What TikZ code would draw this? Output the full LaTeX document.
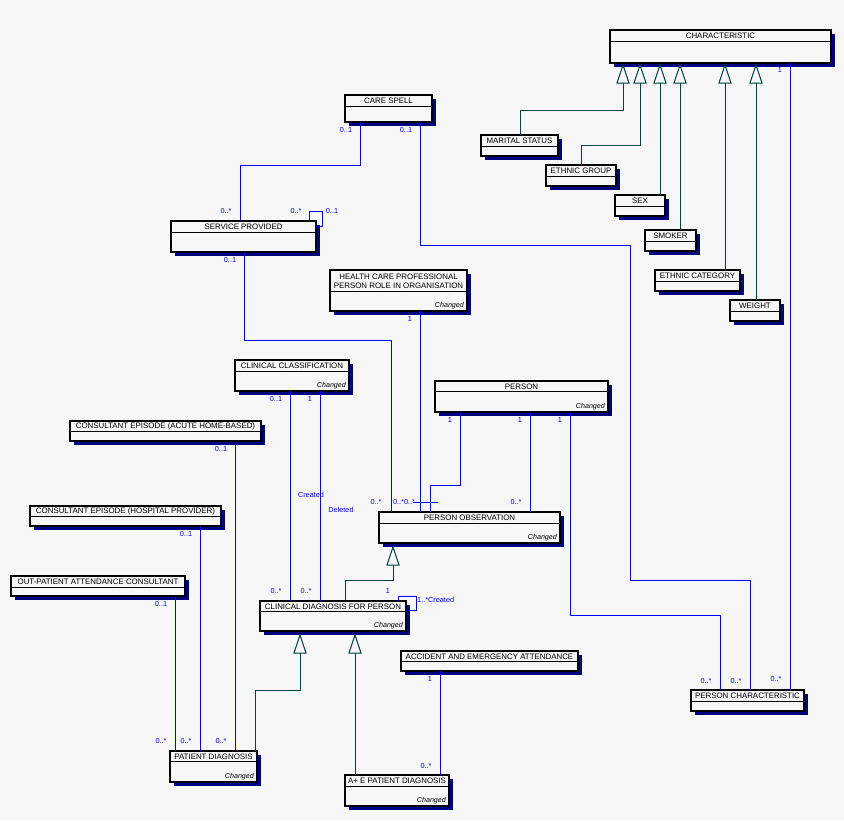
\documentclass[tikz,border=0pt]{standalone}
\usepackage{fontspec}
\setmainfont{Liberation Sans}
\definecolor{bg}{HTML}{F7F7F7}
\definecolor{shd}{HTML}{000080}
\definecolor{assoc}{HTML}{0000FF}
\definecolor{gen}{HTML}{004040}
\tikzset{
  cls/.style={draw=black, line width=1.1pt, fill=bg, inner sep=0pt, outer sep=0pt},
  clsline/.style={draw=black, line width=1pt},
  shadowbox/.style={fill=shd},
  ttl/.style={font=\fontsize{7.9}{9.4}\selectfont, text=black, inner sep=0pt, align=center},
  chgs/.style={font=\fontsize{7.1}{8}\selectfont\itshape, text=black, inner sep=0pt},
  asc/.style={draw=assoc, line width=1pt},
  gnl/.style={draw=gen, line width=1pt},
  gtri/.style={draw=gen, line width=1pt, fill=bg},
  lbl/.style={font=\fontsize{7.3}{8}\selectfont, text=assoc, inner sep=0pt},
}
\newcommand\umlcls[7]{%
  \fill[shadowbox] ({#2+3.5},{#3+3.5}) rectangle ({#4+3.5},{#5+3.5});
  \node[cls, minimum width={(#4-#2)*1pt}, minimum height={(#5-#3)*1pt}, anchor=north west] (#1) at (#2,#3) {};
  \draw[clsline] (#2,#6) -- (#4,#6);
  \node[ttl] (#1-t) at ({(#2+#4)/2},{(#3+#6)/2+0.5}) {#7};
}
\newcommand\chg[1]{\node[chgs, anchor=south east] (#1-c) at ([xshift=-3pt,yshift=2pt]#1.south east) {Changed};}
\newcommand\gtr[2]{% tip x, tip y
  \draw[gtri] (#1,#2) -- ({#1-6},{#2+18}) -- ({#1+6},{#2+18}) -- cycle;}
\begin{document}
\begin{tikzpicture}[x=1pt,y=-1pt]
\fill[bg] (0,0) rectangle (844,820);
\useasboundingbox (0,0) rectangle (844,820);

% classes
\umlcls{char}{610}{30}{831}{63}{41}{CHARACTERISTIC}
\umlcls{marital}{481}{135}{558}{156}{146}{MARITAL STATUS}
\umlcls{ethgrp}{546}{165}{616}{186}{176}{ETHNIC GROUP}
\umlcls{sex}{615}{195}{665}{216}{206}{SEX}
\umlcls{smoker}{645}{230}{696}{251}{241}{SMOKER}
\umlcls{ethcat}{655}{270}{740}{291}{281}{ETHNIC CATEGORY}
\umlcls{weight}{730}{300}{780}{321}{311}{WEIGHT}
\umlcls{cs}{345}{95}{432}{122}{106}{CARE SPELL}
\umlcls{sp}{171}{221}{316}{252}{232}{SERVICE PROVIDED}
\umlcls{hcp}{330}{270}{467}{311}{291}{HEALTH CARE PROFESSIONAL\\PERSON ROLE IN ORGANISATION}
\chg{hcp}
\umlcls{cc}{235}{360}{349}{391}{371}{CLINICAL CLASSIFICATION}
\chg{cc}
\umlcls{person}{435}{381}{608}{412}{391}{PERSON}
\chg{person}
\umlcls{po}{379}{512}{560}{543}{523}{PERSON OBSERVATION}
\chg{po}
\umlcls{cdfp}{260}{601}{406}{631}{611}{CLINICAL DIAGNOSIS FOR PERSON}
\chg{cdfp}
\umlcls{aed}{401}{651}{578}{671}{661}{ACCIDENT AND EMERGENCY ATTENDANCE}
\umlcls{pd}{170}{751}{257}{782}{761}{PATIENT DIAGNOSIS}
\chg{pd}
\umlcls{aepd}{345}{775}{449}{806}{786}{A+ E PATIENT DIAGNOSIS}
\chg{aepd}
\umlcls{pc}{691}{690}{804}{711}{701}{PERSON CHARACTERISTIC}
\umlcls{cea}{70}{421}{261}{441}{431}{CONSULTANT EPISODE (ACUTE HOME-BASED)}
\umlcls{ceh}{30}{506}{221}{526}{516}{CONSULTANT EPISODE (HOSPITAL PROVIDER)}
\umlcls{opac}{11}{576}{185}{596}{587}{OUT-PATIENT ATTENDANCE CONSULTANT}

% generalisations to CHARACTERISTIC
\draw[gnl] (marital.north -| 520,0) |- (623,110) -- (623,83);
\draw[gnl] (ethgrp.north -| 581,0) |- (640,145) -- (640,83);
\draw[gnl] (sex.north -| 660,0) -- (660,83);
\draw[gnl] (smoker.north -| 680,0) -- (680,83);
\draw[gnl] (ethcat.north -| 725,0) -- (725,83);
\draw[gnl] (weight.north -| 756,0) -- (756,83);
\gtr{623}{65}\gtr{640}{65}\gtr{660}{65}\gtr{680}{65}\gtr{725}{65}\gtr{756}{65}

% generalisations to PERSON OBSERVATION / CDFP
\draw[gnl] (cdfp.north -| 345,0) |- (393,580) -- (393,565);
\gtr{393}{547}
\draw[gnl] (pd.north -| 255,0) |- (300,690) -- (300,652);
\draw[gnl] (aepd.north -| 355,0) -- (355,652);
\gtr{300}{635}\gtr{355}{635}

% associations
\draw[asc] (char.south -| 790,0) -- (pc.north -| 790,0);
\draw[asc] (cs.south -| 360,0) |- (240,165) -- (sp.north -| 240,0);
\draw[asc] (cs.south -| 420,0) |- (630,245) |- (750,580) -- (pc.north -| 750,0);
\draw[asc] (sp.north -| 309,0) |- (322,211) |- (sp.east |- 0,226);
\draw[asc] (sp.south -| 244,0) |- (391,340) -- (po.north -| 391,0);
\draw[asc] (hcp.south -| 420,0) -- (po.north -| 420,0);
\coordinate (tkl) at (413,502);
\coordinate (tkr) at (438,502);
\draw[asc] (tkl) -- (tkr);
\draw[asc] (person.south -| 460,0) |- (430,485) -- (po.north -| 430,0);
\draw[asc] (person.south -| 530,0) -- (po.north -| 530,0);
\draw[asc] (person.south -| 570,0) |- (720,615) -- (pc.north -| 720,0);
\draw[asc] (cc.south -| 290,0) -- (cdfp.north -| 290,0);
\draw[asc] (cc.south -| 320,0) -- (cdfp.north -| 320,0);
\draw[asc] (cdfp.north -| 398,0) |- (416,596) |- (cdfp.east |- 0,610);
\draw[asc] (cea.south -| 235,0) -- (pd.north -| 235,0);
\draw[asc] (ceh.south -| 200,0) -- (pd.north -| 200,0);
\draw[asc] (opac.south -| 175,0) -- (pd.north -| 175,0);
\draw[asc] (aed.south -| 440,0) -- (aepd.north -| 440,0);

% labels
\node[lbl] (l1) at (780,70) {1};
\node[lbl] (l2) at (346,130) {0..1};
\node[lbl] (l3) at (406,130) {0..1};
\node[lbl] (l4) at (226,211) {0..*};
\node[lbl] (l5) at (296,211) {0..*};
\node[lbl] (l6) at (332,211) {0..1};
\node[lbl] (l7) at (230,260) {0..1};
\node[lbl] (l8) at (410,319) {1};
\node[lbl] (l9) at (276,399) {0..1};
\node[lbl] (l10) at (310,399) {1};
\node[lbl] (l11) at (450,420) {1};
\node[lbl] (l12) at (520,420) {1};
\node[lbl] (l13) at (560,420) {1};
\node[lbl] (l14) at (311,495) {Created};
\node[lbl] (l15) at (341,510) {Deleted};
\node[lbl] (l16) at (376,502) {0..*};
\node[lbl] (l17) at (404,502) {0..*0..*};
\node[lbl] (l18) at (516,502) {0..*};
\node[lbl] (l19) at (276,591) {0..*};
\node[lbl] (l20) at (306,591) {0..*};
\node[lbl] (l21) at (388,591) {1};
\node[lbl, anchor=west] (l22) at (417,600) {1..*Created};
\node[lbl] (l24) at (221,449) {0..1};
\node[lbl] (l25) at (186,534) {0..1};
\node[lbl] (l26) at (161,604) {0..1};
\node[lbl] (l27) at (161,741) {0..*};
\node[lbl] (l28) at (186,741) {0..*};
\node[lbl] (l29) at (221,741) {0..*};
\node[lbl] (l30) at (426,766) {0..*};
\node[lbl] (l31) at (430,679) {1};
\node[lbl] (l32) at (706,681) {0..*};
\node[lbl] (l33) at (736,681) {0..*};
\node[lbl] (l34) at (776,679) {0..*};
\end{tikzpicture}
\end{document}
